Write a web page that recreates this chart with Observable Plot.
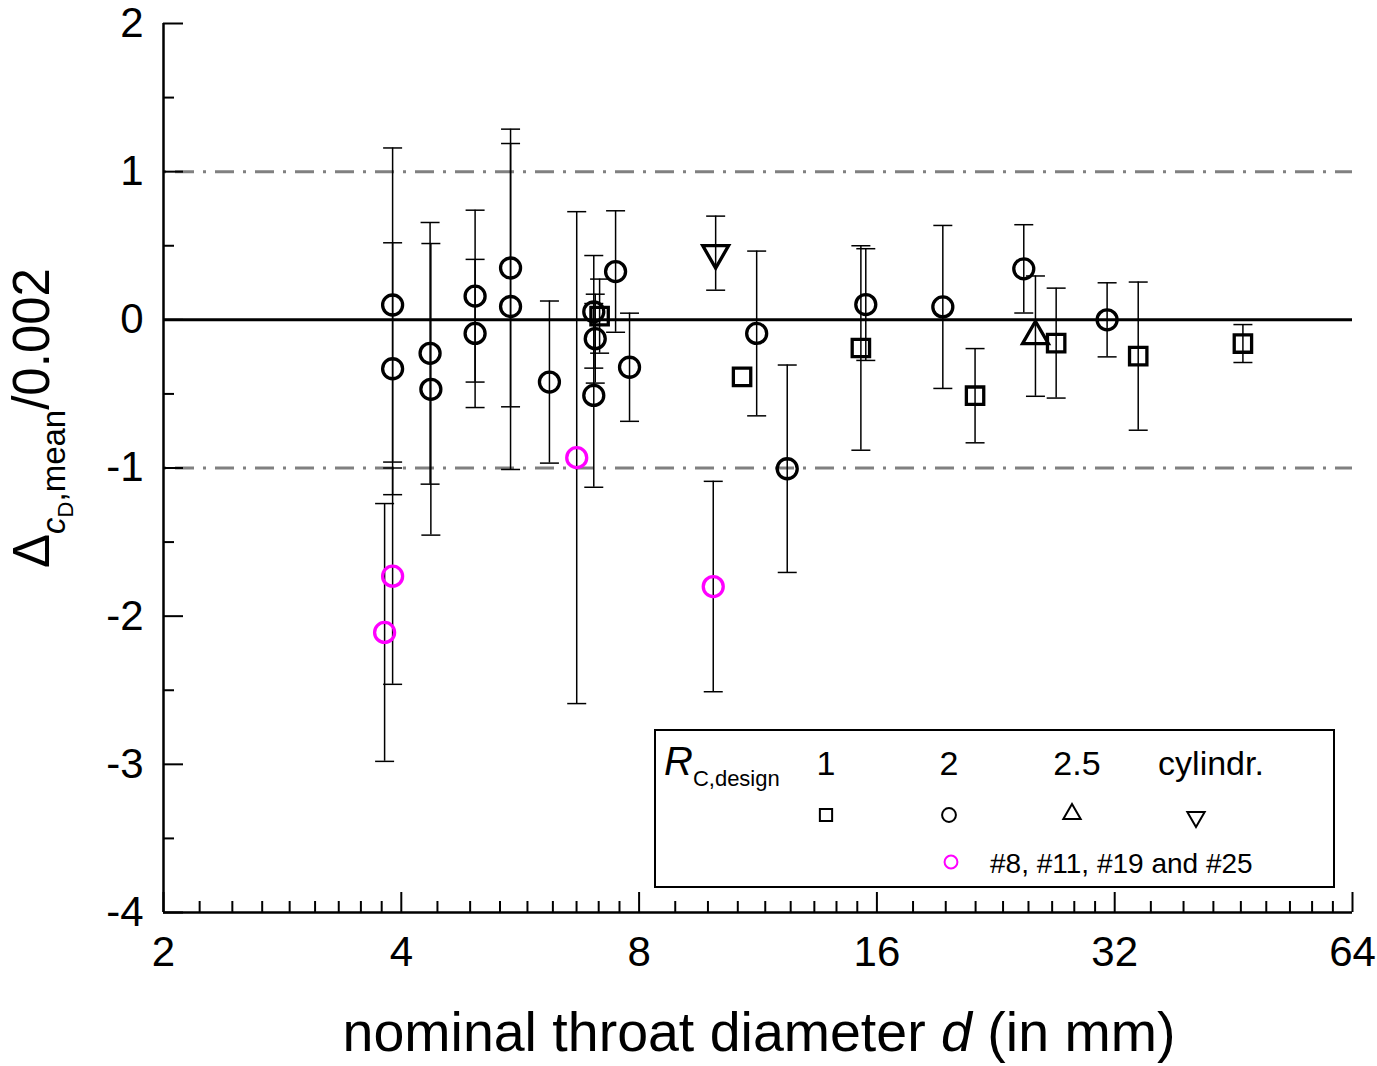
<!DOCTYPE html>
<html><head><meta charset="utf-8">
<script src="https://cdn.jsdelivr.net/npm/d3@7"></script>
<script src="https://cdn.jsdelivr.net/npm/@observablehq/plot@0.6"></script>
<style>
body{margin:0;background:#fff;}
#chart svg{font-family:"Liberation Sans",Arial,sans-serif;}
</style>
</head><body><div id="chart"></div>
<script>
// ---- tick labels ----
const xTicks = [2, 4, 8, 16, 32, 64];
const yTicks = [-4, -3, -2, -1, 0, 1, 2];
const yMinorTicks = [-3.5, -2.5, -1.5, -0.5, 0.5, 1.5];
const refLines = [-1, 1];

// ---- R_C,design = 1 (squares) ----
const sqD = [7.13, 10.8, 15.27, 21.3, 26.98, 34.27, 46.5];
const sqY = [0.025, -0.385, -0.19, -0.512, -0.157, -0.245, -0.16];
const sqE = [0.25, null, 0.69, 0.318, 0.371, 0.5, 0.128];

// ---- R_C,design = 2 (circles) ----
const ciD = [3.90, 3.90, 4.35, 4.36, 4.96, 4.96, 5.50, 5.50, 6.16, 7.01, 7.04, 7.01, 7.47, 7.78, 11.27, 12.32, 15.49, 19.39, 24.55, 31.3];
const ciY = [0.10, -0.33, -0.226, -0.469, 0.16, -0.092, 0.35, 0.09, -0.42, 0.054, -0.127, -0.51, 0.326, -0.32, -0.092, -1.005, 0.103, 0.087, 0.344, 0.0];
const ciE = [1.06, 0.85, 0.883, 0.984, 0.58, 0.5, 0.937, 1.1, 0.547, 0.38, 0.3, 0.62, 0.41, 0.365, 0.556, 0.70, 0.377, 0.55, 0.298, 0.25];

// ---- R_C,design = 2.5 (triangle up) ----
const trD = [25.4];
const trY = [-0.11];
const trE = [0.406];

// ---- cylindrical (triangle down) ----
const cyD = [10.0];
const cyY = [0.45];
const cyE = [0.25];

// ---- #8, #11, #19 and #25 (magenta circles) ----
const mgD = [3.81, 3.90, 6.67, 9.93];
const mgY = [-2.11, -1.73, -0.93, -1.80];
const mgE = [0.87, 0.73, 1.66, 0.71];

const W = 1377, H = 1066, mL = 163, mR = 25, mT = 23, mB = 154;
const plotW = W - mL - mR, plotH = H - mT - mB;

function rows(D, Y, E, g) { return D.map((d, i) => ({d, y: Y[i], e: E[i], g})); }
const squares = rows(sqD, sqY, sqE, "sq");
const circles = rows(ciD, ciY, ciE, "ci");
const triUp = rows(trD, trY, trE, "tu");
const triDn = rows(cyD, cyY, cyE, "td");
const magenta = rows(mgD, mgY, mgE, "mg");
const all = [...squares, ...circles, ...triUp, ...triDn, ...magenta].filter(r => r.e != null);
const caps = all.flatMap(r => [{d: r.d, y: r.y + r.e}, {d: r.d, y: r.y - r.e}]);

// minor x ticks: 8 linearly spaced ticks in each octave
const xMinor = [];
for (const a of xTicks.slice(0, -1)) for (let k = 1; k <= 8; k++) xMinor.push(a * (1 + k / 9));

const capSymbol = {draw(ctx, size) { const w = Math.sqrt(size / Math.PI); ctx.moveTo(-w, 0); ctx.lineTo(w, 0); }};
const triDownSymbol = {draw(ctx, size) {
  const y = Math.sqrt(size / (3 * Math.sqrt(3))), s = Math.sqrt(3);
  ctx.moveTo(0, 2 * y); ctx.lineTo(s * y, -y); ctx.lineTo(-s * y, -y); ctx.closePath();
}};

const MSW = 3.3;
const plot = Plot.plot({
  width: W, height: H,
  marginLeft: mL, marginRight: mR, marginTop: mT, marginBottom: mB,
  style: {fontFamily: "Liberation Sans, Arial, sans-serif", background: "white", color: "black"},
  x: {type: "log", base: 2, domain: [2, 64], label: null},
  y: {domain: [-4, 2], label: null},
  marks: [
    Plot.ruleY(refLines, {stroke: "#808080", strokeWidth: 3, strokeDasharray: "19,9,3,9", strokeDashoffset: -12}),
    Plot.ruleY([0], {stroke: "black", strokeWidth: 3}),
    Plot.ruleX(all, {x: "d", y1: r => r.y - r.e, y2: r => r.y + r.e, stroke: "black", strokeWidth: 1.5}),
    Plot.dot(caps, {x: "d", y: "y", symbol: capSymbol, r: 9.5, stroke: "black", strokeWidth: 1.5, fill: "none"}),
    Plot.dot(squares, {x: "d", y: "y", symbol: "square", r: 9.8, stroke: "black", strokeWidth: MSW, fill: "none"}),
    Plot.dot(circles, {x: "d", y: "y", symbol: "circle", r: 10, stroke: "black", strokeWidth: MSW, fill: "none"}),
    Plot.dot(triUp, {x: "d", y: "y", symbol: "triangle", r: 9.6, stroke: "black", strokeWidth: MSW, fill: "none"}),
    Plot.dot(triDn, {x: "d", y: "y", symbol: triDownSymbol, r: 9.6, stroke: "black", strokeWidth: MSW, fill: "none"}),
    Plot.dot(magenta, {x: "d", y: "y", symbol: "circle", r: 10, stroke: "#ff00ff", strokeWidth: MSW, fill: "none"}),
    // axis lines
    Plot.ruleX([2], {stroke: "black", strokeWidth: 2.5}),
    Plot.ruleY([-4], {stroke: "black", strokeWidth: 2.5}),
    // inward ticks
    Plot.ruleX(xTicks, {stroke: "black", strokeWidth: 2, insetTop: plotH - 20}),
    Plot.ruleX(xMinor, {stroke: "black", strokeWidth: 2, insetTop: plotH - 11}),
    Plot.ruleY(yTicks, {stroke: "black", strokeWidth: 2, insetRight: plotW - 20}),
    Plot.ruleY(yMinorTicks, {stroke: "black", strokeWidth: 2, insetRight: plotW - 11}),
    Plot.axisX({ticks: xTicks, tickSize: 0, tickPadding: 24, fontSize: 42, tickFormat: d => String(d), label: null}),
    Plot.axisY({ticks: yTicks, tickSize: 0, tickPadding: 20, fontSize: 42, tickFormat: d => String(d), label: null})
  ]
});

document.getElementById("chart").appendChild(plot);
const svg = d3.select(plot);
const FF = "Liberation Sans, Arial, sans-serif";

// x title
const xt = svg.append("text").attr("x", 759).attr("y", 1051).attr("text-anchor", "middle")
  .attr("font-family", FF).attr("font-size", 55.5).attr("fill", "black");
xt.append("tspan").text("nominal throat diameter ");
xt.append("tspan").attr("font-style", "italic").text("d");
xt.append("tspan").text(" (in mm)");

// y title
const yt = svg.append("text").attr("transform", "translate(49,418) rotate(-90)").attr("text-anchor", "middle")
  .attr("font-family", FF).attr("fill", "black");
yt.append("tspan").attr("font-size", 51).text("Δ");
yt.append("tspan").attr("font-size", 33).attr("font-style", "italic").attr("dy", 16).text("c");
yt.append("tspan").attr("font-size", 22).attr("dy", 8).text("D");
yt.append("tspan").attr("font-size", 33).attr("dy", -8).text(",mean");
yt.append("tspan").attr("font-size", 51).attr("dy", -16).text("/0.002");

// legend
const lg = svg.append("g").attr("font-family", FF).attr("fill", "black").attr("text-anchor", "start");
lg.append("rect").attr("x", 655).attr("y", 730).attr("width", 679).attr("height", 157)
  .attr("fill", "white").attr("stroke", "black").attr("stroke-width", 2);
const rt = lg.append("text").attr("x", 664).attr("y", 775).attr("text-anchor", "start");
rt.append("tspan").attr("font-size", 40).attr("font-style", "italic").text("R");
rt.append("tspan").attr("font-size", 22).attr("dy", 11).text("C,design");
const heads = [["1", 826], ["2", 949], ["2.5", 1077], ["cylindr.", 1211]];
for (const [t, x] of heads) lg.append("text").attr("x", x).attr("y", 775).attr("text-anchor", "middle").attr("font-size", 34).text(t);
const sym = (type, x, y, size, color) => lg.append("path")
  .attr("transform", `translate(${x},${y})`).attr("d", d3.symbol(type, size)())
  .attr("fill", "none").attr("stroke", color).attr("stroke-width", 2);
sym(d3.symbolSquare, 826, 815, 150, "black");
sym(d3.symbolCircle, 949, 815, 150, "black");
sym(d3.symbolTriangle, 1072, 814, 130, "black");
sym(triDownSymbol, 1196, 817, 130, "black");
sym(d3.symbolCircle, 951, 862, 130, "#ff00ff");
lg.append("text").attr("x", 990).attr("y", 873).attr("text-anchor", "start").attr("font-size", 28).text("#8, #11, #19 and #25");
</script>
</body></html>
